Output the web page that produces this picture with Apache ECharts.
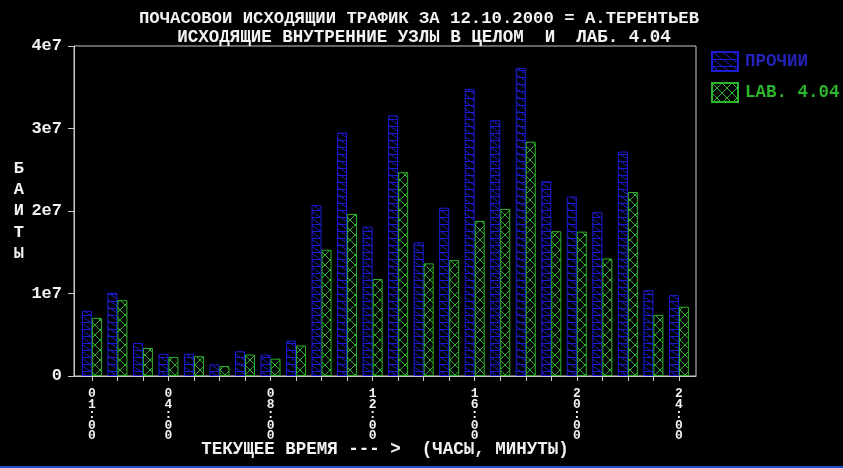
<!DOCTYPE html>
<html><head><meta charset="utf-8">
<script src="https://cdn.jsdelivr.net/npm/echarts@6/dist/echarts.min.js"></script>
<style>html,body{margin:0;padding:0;background:#000}#c{width:843px;height:468px}</style>
</head><body><div id="c"></div>
<script>
// ---- data ----
const titleLine1 = 'ПОЧАСОВОИ ИСХОДЯЩИИ ТРАФИК ЗА 12.10.2000 = А.ТЕРЕНТЬЕВ';
const titleLine2 = 'ИСХОДЯЩИЕ ВНУТРЕННИЕ УЗЛЫ В ЦЕЛОМ  И  ЛАБ. 4.04';
const hours = [1,2,3,4,5,6,7,8,9,10,11,12,13,14,15,16,17,18,19,20,21,22,23,24];
const labelHours = [1,4,8,12,16,20,24];
const yTicks = [0, 1e7, 2e7, 3e7, 4e7];
const seriesNames = ['ПРОЧИИ', 'LAB. 4.04'];
const otherVals = [0.79,1.01,0.40,0.27,0.27,0.14,0.30,0.26,0.43,2.07,2.95,1.81,3.16,1.62,2.04,3.48,3.10,3.735,2.36,2.175,1.985,2.72,1.04,0.98];
const labVals   = [0.705,0.92,0.34,0.23,0.24,0.12,0.26,0.21,0.37,1.53,1.965,1.175,2.47,1.365,1.405,1.88,2.025,2.84,1.755,1.75,1.425,2.23,0.74,0.84];
const scale = 1e7;

// ---- styles ----
const BLUE = '#1c1cd2';
const GREEN = '#2cb42c';
const FONT = 'Liberation Mono';

function makePattern(kind, color) {
  const c = document.createElement('canvas');
  const w = 10, h = kind === 'blue' ? 7 : 10;
  c.width = w; c.height = h;
  const g = c.getContext('2d');
  g.strokeStyle = color; g.lineWidth = 1;
  g.beginPath();
  if (kind === 'blue') {
    g.moveTo(0, 0.5); g.lineTo(w, 0.5);
    g.moveTo(0, 0); g.lineTo(w, h);
  } else {
    g.moveTo(0, 0); g.lineTo(w, h);
    g.moveTo(w, 0); g.lineTo(0, h);
  }
  g.stroke();
  return { image: c, repeat: 'repeat' };
}

const chart = echarts.init(document.getElementById('c'), null, {renderer: 'canvas'});
const txt = {color: '#f2f2f2', fontFamily: FONT, fontWeight: 'bold'};

chart.setOption({
  backgroundColor: '#000',
  animation: false,
  title: [
    {text: titleLine1, left: 414, top: 5, textAlign: 'center',
     textStyle: Object.assign({fontSize: 17.3, lineHeight: 18}, txt)},
    {text: titleLine2, left: 419, top: 24, textAlign: 'center',
     textStyle: Object.assign({fontSize: 17.5, lineHeight: 18}, txt)}
  ],
  legend: {
    orient: 'vertical', left: 706, top: 46,
    itemWidth: 26, itemHeight: 19, itemGap: 10,
    icon: 'rect',
    data: [
      {name: seriesNames[0], textStyle: {color: '#2323b8'}},
      {name: seriesNames[1], textStyle: {color: GREEN}}
    ],
    textStyle: {fontFamily: FONT, fontWeight: 'bold', fontSize: 17.5, padding: [0,0,0,2]}
  },
  grid: {left: 74, right: 147, top: 46, bottom: 92, containLabel: false, outerBoundsMode: 'none',
         show: true, borderColor: '#c8c8c8', borderWidth: 1, backgroundColor: 'transparent'},
  xAxis: {
    type: 'value', min: 0.3, max: 24.67,
    splitLine: {show: false},
    axisLine: {show: true, lineStyle: {color: '#c8c8c8'}},
    axisTick: {show: true, length: 5, inside: false, customValues: hours, lineStyle: {color: '#c8c8c8'}},
    axisLabel: {
      customValues: labelHours, margin: 13,
      fontFamily: FONT, fontWeight: 'bold', fontSize: 13, lineHeight: 10.4, color: '#f2f2f2',
      formatter: v => (String(v).padStart(2, '0') + ':00').split('').join('\n')
    },
    name: 'ТЕКУЩЕЕ ВРЕМЯ --- >  (ЧАСЫ, МИНУТЫ)',
    nameLocation: 'middle', nameGap: 65, nameMoveOverlap: false,
    nameTextStyle: Object.assign({fontSize: 17.5}, txt)
  },
  yAxis: {
    type: 'value', min: yTicks[0], max: yTicks[yTicks.length-1], interval: yTicks[1]-yTicks[0],
    splitLine: {show: false},
    axisLine: {show: true, lineStyle: {color: '#c8c8c8'}},
    axisTick: {show: true, length: 6, lineStyle: {color: '#c8c8c8'}},
    axisLabel: {
      margin: 12, fontFamily: FONT, fontWeight: 'bold', fontSize: 17, color: '#f2f2f2',
      formatter: v => v === 0 ? '0' : (v / scale) + 'e7'
    },
    name: 'Б\nА\nИ\nТ\nЫ', nameLocation: 'middle', nameRotate: 0, nameGap: 50,
    nameTextStyle: Object.assign({fontSize: 17, lineHeight: 21.3}, txt)
  },
  graphic: [
    {type: 'rect', left: 0, bottom: 0, shape: {width: 843, height: 2}, style: {fill: '#1e4fc8'}, silent: true}
  ],
  series: [
    {
      name: seriesNames[0], type: 'bar', barWidth: 10, barGap: '0%',
      data: hours.map((h, i) => [h, otherVals[i] * scale]),
      itemStyle: {color: makePattern('blue', BLUE), borderColor: BLUE, borderWidth: 1}
    },
    {
      name: seriesNames[1], type: 'bar', barWidth: 10, barGap: '0%',
      data: hours.map((h, i) => [h, labVals[i] * scale]),
      itemStyle: {color: makePattern('green', GREEN), borderColor: GREEN, borderWidth: 1}
    }
  ]
});
</script>
</body></html>
